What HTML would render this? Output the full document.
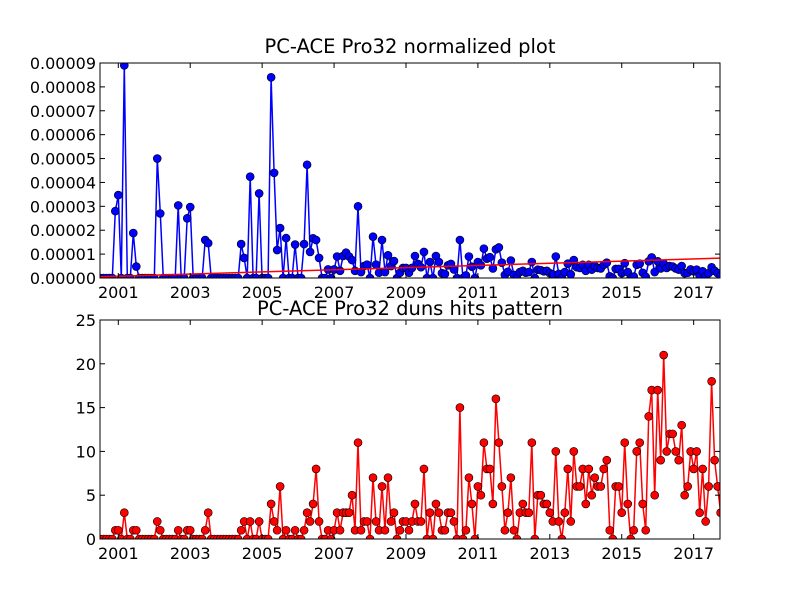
<!DOCTYPE html>
<html><head><meta charset="utf-8"><style>
body{margin:0;background:#fff;}
svg text{font-family:"DejaVu Sans","Liberation Sans",sans-serif;}
</style></head><body>
<svg id="chart" width="800" height="600" viewBox="0 0 800 600" xmlns="http://www.w3.org/2000/svg">
<rect width="800" height="600" fill="#fff"/>
<defs>
<clipPath id="c1"><rect x="100" y="63" width="620" height="215"/></clipPath>
<clipPath id="c2"><rect x="100" y="320" width="620" height="219"/></clipPath>
</defs>
<text x="410" y="53" font-size="19.5" text-anchor="middle">PC-ACE Pro32 normalized plot</text>
<text x="410" y="315" font-size="19.5" text-anchor="middle">PC-ACE Pro32 duns hits pattern</text>
<g id="top"></g>
<g id="bot"></g>
</svg>
<script>
const hits = [0,0,0,0,0,1,1,0,3,0,
0,1,1,0,0,0,0,0,0,2,
1,0,0,0,0,0,1,0,0,1,
1,0,0,0,0,1,3,0,0,0,
0,0,0,0,0,0,0,1,2,0,
2,0,0,2,0,0,0,4,2,1,
6,0,1,0,0,1,0,0,1,3,
2,4,8,2,0,0,1,0,1,3,
1,3,3,3,5,1,11,1,2,2,
0,7,2,1,6,1,7,2,3,0,
1,2,2,1,2,4,2,2,8,0,
3,0,4,3,1,1,3,3,2,0,
15,0,1,7,4,0,6,5,11,8,
8,4,16,11,6,1,3,7,1,0,
3,4,3,3,11,0,5,5,4,4,
3,2,10,2,0,3,8,2,10,6,
6,8,4,8,5,7,6,6,8,9,
1,0,6,6,3,11,4,0,1,10,
11,4,1,14,17,5,17,9,21,10,
12,12,10,9,13,5,6,10,8,10,
3,8,2,6,18,9,6,3];
// normalized values in units of 1e-5
const norm = [0,0,0,0,0,2.8,3.47,0,8.9,0,
0,1.88,0.48,0,0,0,0,0,0,5.0,
2.7,0,0,0,0,0,3.04,0,0,2.5,
2.97,0,0,0,0,1.59,1.46,0,0,0,
0,0,0,0,0,0,0,1.42,0.84,0,
4.24,0,0,3.54,0,0,0,8.4,4.4,1.17,
2.09,0,1.67,0,0,1.4,0,0,1.42,4.74,
1.09,1.66,1.59,0.84,0,0,0.36,0,0.36,0.9,
0.3,0.92,1.06,0.9,0.75,0.3,3.0,0.25,0.5,0.56,
0,1.73,0.56,0.22,1.59,0.25,0.95,0.5,0.71,0,
0.22,0.42,0.42,0.22,0.42,0.92,0.59,0.45,1.09,0,
0.67,0,0.92,0.67,0.2,0.17,0.53,0.59,0.36,0,
1.59,0,0.11,0.9,0.47,0,0.67,0.53,1.23,0.81,
0.87,0.4,1.2,1.28,0.64,0.13,0.26,0.73,0.13,0,
0.25,0.3,0.22,0.25,0.67,0,0.35,0.33,0.28,0.3,
0.2,0.15,0.9,0.17,0,0.25,0.6,0.15,0.75,0.45,
0.42,0.55,0.3,0.55,0.35,0.5,0.42,0.4,0.55,0.64,
0.07,0,0.38,0.38,0.2,0.62,0.25,0,0.06,0.55,
0.6,0.22,0.05,0.7,0.86,0.25,0.7,0.4,0.6,0.42,
0.5,0.48,0.4,0.35,0.5,0.2,0.22,0.36,0.28,0.35,
0.1,0.28,0.07,0.2,0.45,0.3,0.2,0.1];
const startYear = 2000.5;
const trendStart = 0.05;
const trendEnd = 0.83;
const xTicks = [2001,2003,2005,2007,2009,2011,2013,2015,2017];
const topTicks = ["0.00000","0.00001","0.00002","0.00003","0.00004","0.00005","0.00006","0.00007","0.00008","0.00009"];
const botTicks = [0,5,10,15,20,25];

const NS="http://www.w3.org/2000/svg";
function mk(tag,attrs,parent){const e=document.createElementNS(NS,tag);for(const k in attrs)e.setAttribute(k,attrs[k]);parent.appendChild(e);return e;}
const L=100,R=720;
const xS = yr => 118.3 + (yr-2001)*35.96;
const yTop = v => 278 - v*23.89;
const yBot = v => 539 - v*8.76;
const yrOf = i => startYear + i/12;

function axes(g, top, bottom, yTicks, yFn, labels){
  mk('rect',{x:L,y:top,width:R-L,height:bottom-top,fill:'none',stroke:'#000','stroke-width':1},g);
  xTicks.forEach(t=>{
    const x=xS(t);
    mk('line',{x1:x,x2:x,y1:bottom,y2:bottom-5,stroke:'#000'},g);
    mk('line',{x1:x,x2:x,y1:top,y2:top+5,stroke:'#000'},g);
    const tx=mk('text',{x:x,y:bottom+20,'font-size':16,'text-anchor':'middle'},g);
    tx.textContent=t;
    
    
  });
  yTicks.forEach((t,k)=>{
    const y=yFn(k);
    mk('line',{x1:L,x2:L+5,y1:y,y2:y,stroke:'#000'},g);
    mk('line',{x1:R,x2:R-5,y1:y,y2:y,stroke:'#000'},g);
    const tx=mk('text',{x:L-4,y:y+6,'font-size':16,'text-anchor':'end'},g);
    tx.textContent=labels[k];
    
    
  });
}
const gt=document.getElementById('top'), gb=document.getElementById('bot');
const ct=mk('g',{'clip-path':'url(#c1)'},gt);
const pt=norm.map((v,i)=>xS(yrOf(i)).toFixed(1)+','+yTop(v).toFixed(1)).join(' ');
const lt=mk('polyline',{points:pt,fill:'none',stroke:'#0000ff','stroke-width':1.5},ct);


norm.forEach((v,i)=>{
  const c=mk('circle',{cx:xS(yrOf(i)),cy:yTop(v),r:4,fill:'#0000ff',stroke:'#000','stroke-width':0.6},ct);
  
  
});
const tr=mk('line',{x1:L,x2:R,y1:yTop(trendStart),y2:yTop(trendEnd),stroke:'#ff0000','stroke-width':1.5},ct);


axes(gt,63,278,topTicks,k=>yTop(k),topTicks);
const cb=mk('g',{'clip-path':'url(#c2)'},gb);
const pb=hits.map((v,i)=>xS(yrOf(i)).toFixed(1)+','+yBot(v).toFixed(1)).join(' ');
const lb=mk('polyline',{points:pb,fill:'none',stroke:'#ff0000','stroke-width':1.5},cb);


hits.forEach((v,i)=>{
  const c=mk('circle',{cx:xS(yrOf(i)),cy:yBot(v),r:4,fill:'#ff0000',stroke:'#000','stroke-width':0.6},cb);
  
  
});
axes(gb,320,539,botTicks,k=>yBot(botTicks[k]),botTicks);
</script>
</body></html>
